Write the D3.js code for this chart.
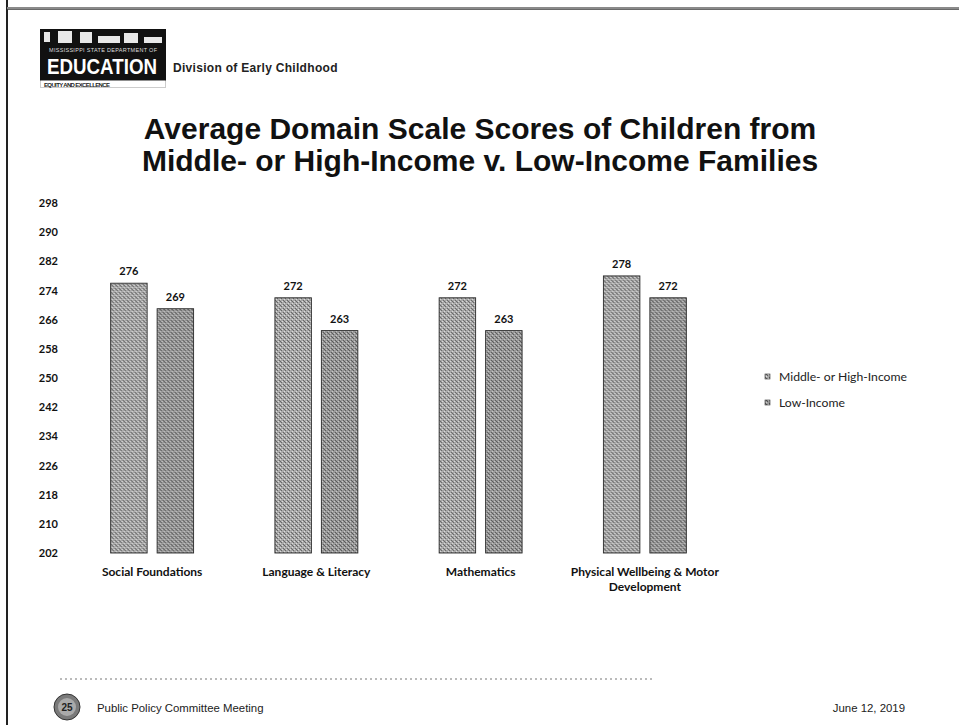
<!DOCTYPE html>
<html>
<head>
<meta charset="utf-8">
<script src="https://cdn.jsdelivr.net/npm/d3@7"></script>
<style>
  html, body { margin: 0; padding: 0; background: #fff; }
  svg { display: block; }
</style>
</head>
<body>
<svg id="chart" width="959" height="725"></svg>
<script>
// ---- data ----
const categories = ["Social Foundations", "Language & Literacy", "Mathematics", "Physical Wellbeing & Motor Development"];
const categoryLines = [["Social Foundations"], ["Language & Literacy"], ["Mathematics"], ["Physical Wellbeing & Motor", "Development"]];
const seriesNames = ["Middle- or High-Income", "Low-Income"];
const middleHighIncome = [276, 272, 272, 278];
const lowIncome = [269, 263, 263, 272];
const yTicks = [202, 210, 218, 226, 234, 242, 250, 258, 266, 274, 282, 290, 298];
const titleLines = ["Average Domain Scale Scores of Children from", "Middle- or High-Income v. Low-Income Families"];

const seriesValues = [middleHighIncome, lowIncome];
const rows = categories.map((c, i) => ({ cat: c, values: seriesNames.map((s, j) => ({ series: s, idx: j, value: seriesValues[j][i] })) }));

const svg = d3.select("#chart");
const labelFont = "Lato, 'Open Sans', sans-serif";

// patterns
const defs = svg.append("defs");
function makePattern(id, base, dark, light) {
  const p = defs.append("pattern").attr("id", id).attr("patternUnits", "userSpaceOnUse")
    .attr("width", 4).attr("height", 4);
  p.append("rect").attr("width", 4).attr("height", 4).attr("fill", base);
  p.append("rect").attr("x", 0).attr("y", 0).attr("width", 1).attr("height", 1).attr("fill", dark);
  p.append("rect").attr("x", 2).attr("y", 2).attr("width", 1).attr("height", 1).attr("fill", dark);
  p.append("rect").attr("x", 1).attr("y", 1).attr("width", 1).attr("height", 1).attr("fill", dark);
  p.append("rect").attr("x", 1).attr("y", 3).attr("width", 1).attr("height", 1).attr("fill", light);
  p.append("rect").attr("x", 3).attr("y", 1).attr("width", 1).attr("height", 1).attr("fill", light);
}
makePattern("patHigh", "#a9a9a9", "#606060", "#e0e0e0");
makePattern("patLow", "#999999", "#555555", "#cccccc");
const fills = ["url(#patHigh)", "url(#patLow)"];

// page frame
svg.append("line").attr("x1", 7).attr("x2", 7).attr("y1", 0).attr("y2", 725)
  .attr("stroke", "#222").attr("stroke-width", 2);
svg.append("line").attr("x1", 7).attr("x2", 959).attr("y1", 8).attr("y2", 8)
  .attr("stroke", "#8a8a8a").attr("stroke-width", 2);
svg.append("line").attr("x1", 7).attr("x2", 959).attr("y1", 9.5).attr("y2", 9.5)
  .attr("stroke", "#444").attr("stroke-width", 0.8);

// logo
const logo = svg.append("g");
logo.append("rect").attr("x", 40).attr("y", 29).attr("width", 126).attr("height", 52).attr("fill", "#111");
[[44, 32, 6, 10], [58, 31, 14, 12], [80, 32, 12, 11], [98, 36, 22, 7], [124, 33, 14, 10], [144, 37, 18, 6]].forEach(r => {
  logo.append("rect").attr("x", r[0]).attr("y", r[1]).attr("width", r[2]).attr("height", r[3]).attr("fill", "#e8e8e8");
});
logo.append("text").attr("x", 103).attr("y", 52).attr("text-anchor", "middle")
  .attr("font-family", "'Liberation Sans Narrow', 'Liberation Sans', sans-serif").attr("font-size", 5.5)
  .attr("fill", "#ddd").attr("textLength", 108).text("MISSISSIPPI STATE DEPARTMENT OF");
logo.append("text").attr("x", 47).attr("y", 74)
  .attr("font-family", "'Liberation Sans Narrow', 'Liberation Sans', sans-serif").attr("font-weight", "bold")
  .attr("font-size", 22).attr("fill", "#fff").attr("textLength", 110).attr("lengthAdjust", "spacingAndGlyphs").text("EDUCATION");
logo.append("rect").attr("x", 40.5).attr("y", 80.5).attr("width", 125).attr("height", 7).attr("fill", "#fff")
  .attr("stroke", "#999").attr("stroke-width", 1).attr("stroke-dasharray", "1,1");
logo.append("text").attr("x", 77).attr("y", 86.5).attr("text-anchor", "middle")
  .attr("font-family", "'Liberation Sans', sans-serif").attr("font-weight", "bold").attr("font-size", 6)
  .attr("fill", "#222").attr("textLength", 66).text("EQUITY AND EXCELLENCE");

svg.append("text").attr("x", 173).attr("y", 72)
  .attr("font-family", "'Liberation Sans', Arial, sans-serif").attr("font-weight", "bold")
  .attr("font-size", 12).attr("letter-spacing", 0.3).attr("fill", "#222").text("Division of Early Childhood");

// title
svg.append("g").selectAll("text").data(titleLines).join("text")
  .attr("x", 480).attr("y", (d, i) => 139 + i * 32).attr("text-anchor", "middle")
  .attr("font-family", "'Liberation Sans', Arial, sans-serif").attr("font-weight", "bold")
  .attr("font-size", 30).attr("fill", "#111").text(d => d);

// scales
const y = d3.scaleLinear().domain([202, 298]).range([553, 203]);
const x0 = d3.scaleBand().domain(categories).range([70, 727]).paddingInner(0.495).paddingOuter(0.2475);
const x1 = d3.scaleBand().domain(seriesNames).range([0, x0.bandwidth()]).paddingInner(0.215);

// y axis (no line, no ticks)
const yAxis = svg.append("g").attr("transform", "translate(58,0)")
  .call(d3.axisLeft(y).tickValues(yTicks).tickSize(0).tickPadding(0).tickFormat(d3.format("d")));
yAxis.select(".domain").remove();
yAxis.selectAll("text").attr("font-family", labelFont).attr("font-weight", "bold")
  .attr("font-size", 11).attr("fill", "#111");

// bars
const groups = svg.append("g").selectAll("g").data(rows).join("g")
  .attr("transform", d => `translate(${x0(d.cat)},0)`);
groups.selectAll("rect").data(d => d.values).join("rect")
  .attr("x", d => x1(d.series)).attr("y", d => y(d.value))
  .attr("width", x1.bandwidth()).attr("height", d => y(202) - y(d.value))
  .attr("fill", d => fills[d.idx]).attr("stroke", "#2a2a2a").attr("stroke-width", 0.9);
groups.selectAll("text").data(d => d.values).join("text")
  .attr("x", d => x1(d.series) + x1.bandwidth() / 2).attr("y", d => y(d.value) - 8)
  .attr("text-anchor", "middle").attr("font-family", labelFont).attr("font-weight", "bold")
  .attr("font-size", 11).attr("fill", "#111").text(d => d.value);

// category labels
const catG = svg.append("g").selectAll("text").data(categories).join("text")
  .attr("x", d => x0(d) + x0.bandwidth() / 2).attr("y", 576).attr("text-anchor", "middle")
  .attr("font-family", labelFont).attr("font-weight", "bold").attr("font-size", 12).attr("fill", "#111");
catG.selectAll("tspan").data((d, i) => categoryLines[i]).join("tspan")
  .attr("x", function() { return d3.select(this.parentNode).attr("x"); })
  .attr("dy", (d, i) => i === 0 ? 0 : 15).text(d => d);

// legend
const leg = svg.append("g").selectAll("g").data(seriesNames).join("g")
  .attr("transform", (d, i) => `translate(765,${377 + i * 26})`);
leg.append("rect").attr("x", 0).attr("y", -3).attr("width", 5).attr("height", 5)
  .attr("fill", (d, i) => fills[i]).attr("stroke", "#333").attr("stroke-width", 0.6);
leg.append("text").attr("x", 14).attr("y", 4).attr("font-family", labelFont)
  .attr("font-size", 12.2).attr("fill", "#222").text(d => d);

// footer
svg.append("line").attr("x1", 60).attr("x2", 654).attr("y1", 679).attr("y2", 679)
  .attr("stroke", "#777").attr("stroke-width", 1).attr("stroke-dasharray", "2,3");
svg.append("circle").attr("cx", 67).attr("cy", 707).attr("r", 13).attr("fill", "#7a7a7a").attr("stroke", "#333");
svg.append("circle").attr("cx", 67).attr("cy", 707).attr("r", 9).attr("fill", "#aaa");
svg.append("text").attr("x", 67).attr("y", 711).attr("text-anchor", "middle")
  .attr("font-family", "'Liberation Sans', sans-serif").attr("font-weight", "bold").attr("font-size", 10)
  .attr("fill", "#222").text("25");
svg.append("text").attr("x", 97).attr("y", 712)
  .attr("font-family", "'Liberation Sans', Arial, sans-serif").attr("font-size", 11.4).attr("fill", "#222")
  .text("Public Policy Committee Meeting");
svg.append("text").attr("x", 905).attr("y", 712).attr("text-anchor", "end")
  .attr("font-family", "'Liberation Sans', Arial, sans-serif").attr("font-size", 11.4).attr("fill", "#222")
  .text("June 12, 2019");
</script>
</body>
</html>
